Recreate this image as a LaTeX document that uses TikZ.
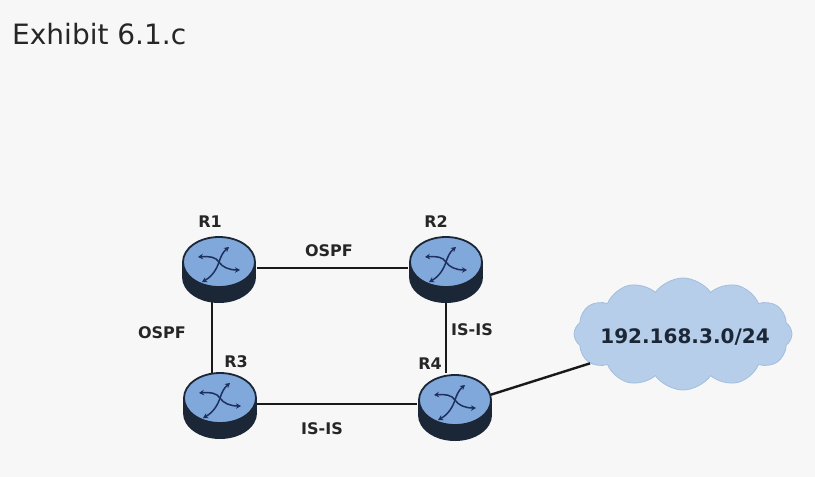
\documentclass[tikz,border=0pt]{standalone}
\usepackage{fontspec}
\setmainfont{DejaVu Sans}
\usetikzlibrary{arrows}
\usetikzlibrary{arrows.meta}
\usetikzlibrary{shapes}
\usetikzlibrary{calc}
\definecolor{rtface}{HTML}{80A8DA}
\definecolor{rtdark}{HTML}{1B2636}
\definecolor{rtarrow}{HTML}{1D3060}
\definecolor{netfill}{HTML}{B6CEEA}
\definecolor{netedge}{HTML}{A2BEDF}
\tikzset{
  router/.pic={
    \fill[rtdark] (0,9) ellipse [x radius=37pt, y radius=26pt];
    \fill[rtdark] (-37,-6) rectangle (37,9);
    \draw[rtdark, line width=1.8pt, fill=rtface] (0,-6) ellipse [x radius=36pt, y radius=25pt];
    \draw[rtarw] (0,-6) .. controls (-3,-11) and (-10,-12) .. (-21,-11);
    \draw[rtarw] (0,-6) .. controls (2,-12) and (4,-16) .. (10,-21);
    \draw[rtarw] (0,-6) .. controls (-2,0) and (-6,8) .. (-17,14);
    \draw[rtarw] (0,-6) .. controls (3,-1) and (10,2) .. (21,2);
  },
  rtarw/.style={-{Stealth[length=5pt,width=5.5pt]}, rtarrow, line width=1.5pt},
  rtnode/.style={ellipse, minimum width=76pt, minimum height=66pt, inner sep=0pt},
  link/.style={line width=2.4pt, black!90},
  lbl/.style={font=\bfseries\fontsize{16}{16}\selectfont, anchor=base, text=black!85}
}
\begin{document}
\begin{tikzpicture}[x=1pt, y=-1pt]
  \fill[gray!6] (0,0) rectangle (815,477);
  \useasboundingbox (0,0) rectangle (815,477);
  \node[anchor=base west, inner sep=0pt, font=\fontsize{28}{28}\selectfont, text=black!85] (title) at (12,44) {Exhibit 6.1.c};
  % routers and network
  \node[rtnode] (r1) at (219,268) {};
  \node[rtnode] (r2) at (446,268) {};
  \node[rtnode] (r3) at (220,404) {};
  \node[rtnode] (r4) at (455,406) {};
  \node[cloud, cloud puffs=12, cloud puff arc=110, aspect=2, fill=netfill, draw=netedge, thick, minimum width=218pt, minimum height=112pt, inner sep=0pt] (net) at (683,334) {};
  \node[font=\bfseries\fontsize{20}{20}\selectfont, text=rtdark] (netlbl) at (685,337) {192.168.3.0/24};
  % links
  \draw[link] (r1) -- (r2);
  \draw[link] ([xshift=-7pt]r1.center) -- ([xshift=-8pt]r3.center);
  \draw[link] (r2.center) -- (r2.center |- r4.north);
  \draw[link] (r3.center) -- (r3.center -| r4.west);
  \draw[link] (r4) -- (net);
  \pic at (r1) {router};
  \pic at (r2) {router};
  \pic at (r3) {router};
  \pic at (r4) {router};
  % labels
  \node[lbl] (l1) at (210,227) {R1};
  \node[lbl] (l2) at (436,227) {R2};
  \node[lbl] (l3) at (236,367) {R3};
  \node[lbl] (l4) at (430,369) {R4};
  \node[lbl] (o1) at (329,256) {OSPF};
  \node[lbl] (o2) at (162,338) {OSPF};
  \node[lbl] (i1) at (472,335) {IS-IS};
  \node[lbl] (i2) at (322,434) {IS-IS};
\end{tikzpicture}
\end{document}
